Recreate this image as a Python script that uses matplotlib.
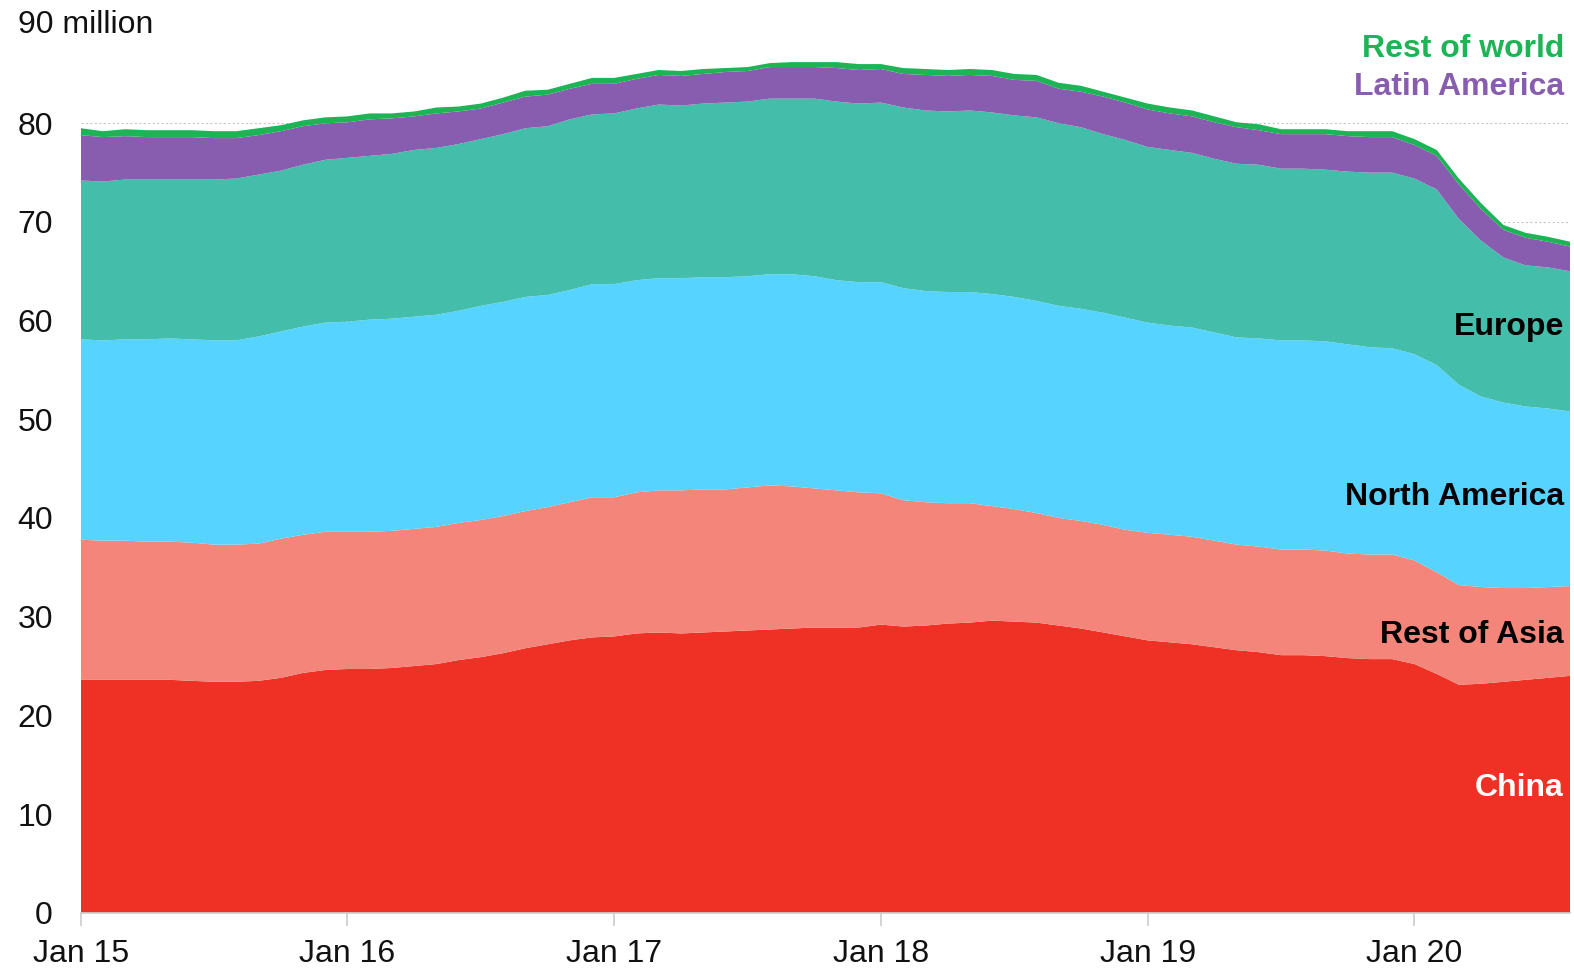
import matplotlib
matplotlib.use("Agg")
import matplotlib.pyplot as plt
import matplotlib.transforms as mtransforms

plt.rcParams["font.family"] = ["Liberation Sans", "DejaVu Sans"]

# Monthly index: 0 = Jan 2015 ... 67 = Aug 2020
months = list(range(68))
tick_positions = [0, 12, 24, 36, 48, 60]
tick_labels = ["Jan 15", "Jan 16", "Jan 17", "Jan 18", "Jan 19", "Jan 20"]
y_ticks = [0, 10, 20, 30, 40, 50, 60, 70, 80, 90]
y_tick_labels = ["0", "10", "20", "30", "40", "50", "60", "70", "80", ""]

# Annual vehicle sales by region, millions
china = [23.6, 23.6, 23.6, 23.6, 23.6, 23.5, 23.4, 23.4, 23.5, 23.8, 24.3, 24.6,
         24.7, 24.7, 24.8, 25.0, 25.2, 25.6, 25.9, 26.3, 26.8, 27.2, 27.6, 27.9,
         28.0, 28.3, 28.4, 28.3, 28.4, 28.5, 28.6, 28.7, 28.8, 28.9, 28.9, 28.9,
         29.2, 29.0, 29.1, 29.3, 29.4, 29.6, 29.5, 29.4, 29.1, 28.8, 28.4, 28.0,
         27.6, 27.4, 27.2, 26.9, 26.6, 26.4, 26.1, 26.1, 26.0, 25.8, 25.7, 25.7,
         25.2, 24.2, 23.1, 23.2, 23.4, 23.6, 23.8, 24.0]
rest_of_asia = [14.2, 14.1, 14.1, 14.0, 14.0, 14.0, 13.9, 13.9, 13.9, 14.1, 14.0, 14.0,
                13.9, 13.9, 13.9, 13.9, 13.9, 13.9, 13.9, 13.9, 13.9, 13.9, 14.0, 14.2,
                14.1, 14.3, 14.4, 14.5, 14.5, 14.4, 14.5, 14.6, 14.4, 14.1, 13.9, 13.7,
                13.3, 12.8, 12.5, 12.2, 12.1, 11.6, 11.4, 11.1, 10.9, 10.9, 10.9, 10.8,
                10.9, 10.9, 10.9, 10.8, 10.7, 10.7, 10.7, 10.7, 10.7, 10.6, 10.6, 10.6,
                10.5, 10.3, 10.1, 9.8, 9.5, 9.3, 9.2, 9.1]
north_america = [20.3, 20.3, 20.4, 20.5, 20.6, 20.6, 20.7, 20.7, 21.0, 21.0, 21.1, 21.2,
                 21.3, 21.5, 21.5, 21.5, 21.5, 21.5, 21.7, 21.7, 21.7, 21.5, 21.5, 21.6,
                 21.6, 21.5, 21.5, 21.5, 21.5, 21.5, 21.4, 21.4, 21.5, 21.5, 21.3, 21.3,
                 21.4, 21.5, 21.4, 21.4, 21.4, 21.5, 21.5, 21.5, 21.5, 21.5, 21.5, 21.5,
                 21.3, 21.2, 21.2, 21.1, 21.0, 21.1, 21.2, 21.2, 21.2, 21.2, 21.0, 20.9,
                 20.9, 21.0, 20.3, 19.3, 18.8, 18.4, 18.1, 17.7]
europe = [16.1, 16.1, 16.2, 16.2, 16.1, 16.2, 16.3, 16.4, 16.4, 16.3, 16.4, 16.5,
          16.6, 16.6, 16.7, 16.9, 16.9, 16.9, 16.9, 17.0, 17.1, 17.1, 17.3, 17.2,
          17.3, 17.4, 17.6, 17.5, 17.6, 17.7, 17.7, 17.8, 17.8, 18.0, 18.1, 18.1,
          18.2, 18.3, 18.3, 18.3, 18.4, 18.4, 18.4, 18.6, 18.5, 18.4, 18.1, 18.0,
          17.8, 17.8, 17.7, 17.6, 17.6, 17.6, 17.4, 17.4, 17.4, 17.5, 17.7, 17.8,
          17.8, 17.8, 16.8, 15.8, 14.7, 14.3, 14.3, 14.2]
latin_america = [4.6, 4.5, 4.4, 4.3, 4.3, 4.3, 4.2, 4.1, 4.0, 4.0, 3.9, 3.7,
                 3.6, 3.7, 3.6, 3.4, 3.5, 3.3, 3.1, 3.2, 3.2, 3.2, 3.1, 3.1,
                 3.0, 3.0, 3.0, 3.0, 3.0, 3.1, 3.1, 3.2, 3.2, 3.2, 3.4, 3.4,
                 3.4, 3.4, 3.6, 3.6, 3.6, 3.7, 3.6, 3.7, 3.5, 3.6, 3.8, 3.8,
                 3.8, 3.7, 3.7, 3.7, 3.7, 3.5, 3.5, 3.5, 3.6, 3.6, 3.6, 3.6,
                 3.4, 3.4, 3.5, 3.2, 2.8, 2.8, 2.6, 2.5]
rest_of_world = [0.7, 0.6, 0.7, 0.7, 0.7, 0.7, 0.7, 0.7, 0.7, 0.6, 0.6, 0.6,
                 0.6, 0.6, 0.5, 0.5, 0.6, 0.5, 0.5, 0.5, 0.6, 0.5, 0.5, 0.6,
                 0.6, 0.5, 0.5, 0.5, 0.5, 0.4, 0.4, 0.4, 0.5, 0.5, 0.6, 0.6,
                 0.5, 0.6, 0.6, 0.6, 0.6, 0.6, 0.6, 0.6, 0.6, 0.6, 0.5, 0.5,
                 0.6, 0.6, 0.6, 0.6, 0.5, 0.6, 0.5, 0.5, 0.5, 0.5, 0.6, 0.6,
                 0.6, 0.6, 0.6, 0.6, 0.5, 0.5, 0.5, 0.5]

series = [china, rest_of_asia, north_america, europe, latin_america, rest_of_world]
colors = ["#EE3124", "#F3857A", "#56D4FF", "#44BEAA", "#885DB0", "#1CB455"]

fig = plt.figure(figsize=(15.74, 9.69), dpi=100)
ax = fig.add_axes([0.0513, 0.0581, 0.9462, 0.9165])

ax.stackplot(months, *series, colors=colors, linewidth=0, zorder=2)

ax.set_xlim(0, 67)
ax.set_ylim(0, 90)

# Gridlines (visible only above the stacked areas)
ax.set_yticks(y_ticks)
ax.set_yticklabels(y_tick_labels)
ax.yaxis.grid(True, color="#c8c8c8", linestyle=(0, (2, 2)), linewidth=0.8, zorder=1)
ax.get_ygridlines()[-1].set_visible(False)
ax.get_ygridlines()[0].set_visible(False)
ax.set_axisbelow(True)

ax.set_xticks(tick_positions)
ax.set_xticklabels(tick_labels)

for side in ["top", "right", "left"]:
    ax.spines[side].set_visible(False)
ax.spines["bottom"].set_color("#cccccc")
ax.spines["bottom"].set_linewidth(1.2)
ax.spines["bottom"].set_zorder(3)

ax.tick_params(axis="x", length=9, width=1.2, color="#cccccc", pad=10,
               labelsize=23, labelcolor="#111111")
ax.tick_params(axis="y", length=0, pad=20, labelsize=23, labelcolor="#111111")

# Top tick label with unit
trans = mtransforms.blended_transform_factory(fig.transFigure, ax.transData)
ax.text(18 / 1574, 90.0, "90 million", transform=trans, ha="left", va="center",
        fontsize=23, color="#111111")

# Region labels, right-aligned inside the chart
lab = mtransforms.blended_transform_factory(ax.transAxes, ax.transData)
labels = [
    ("Rest of world", 87.5, "#1CB455"),
    ("Latin America", 83.7, "#885DB0"),
    ("Europe", 59.35, "#000000"),
    ("North America", 42.1, "#000000"),
    ("Rest of Asia", 28.1, "#000000"),
    ("China", 12.6, "#ffffff"),
]
for text, yv, col in labels:
    ax.text(0.9958, yv, text, transform=lab, ha="right", va="center",
            fontsize=23, fontweight="bold", color=col, zorder=5)

fig.savefig("out.png", dpi=100, facecolor="white")
